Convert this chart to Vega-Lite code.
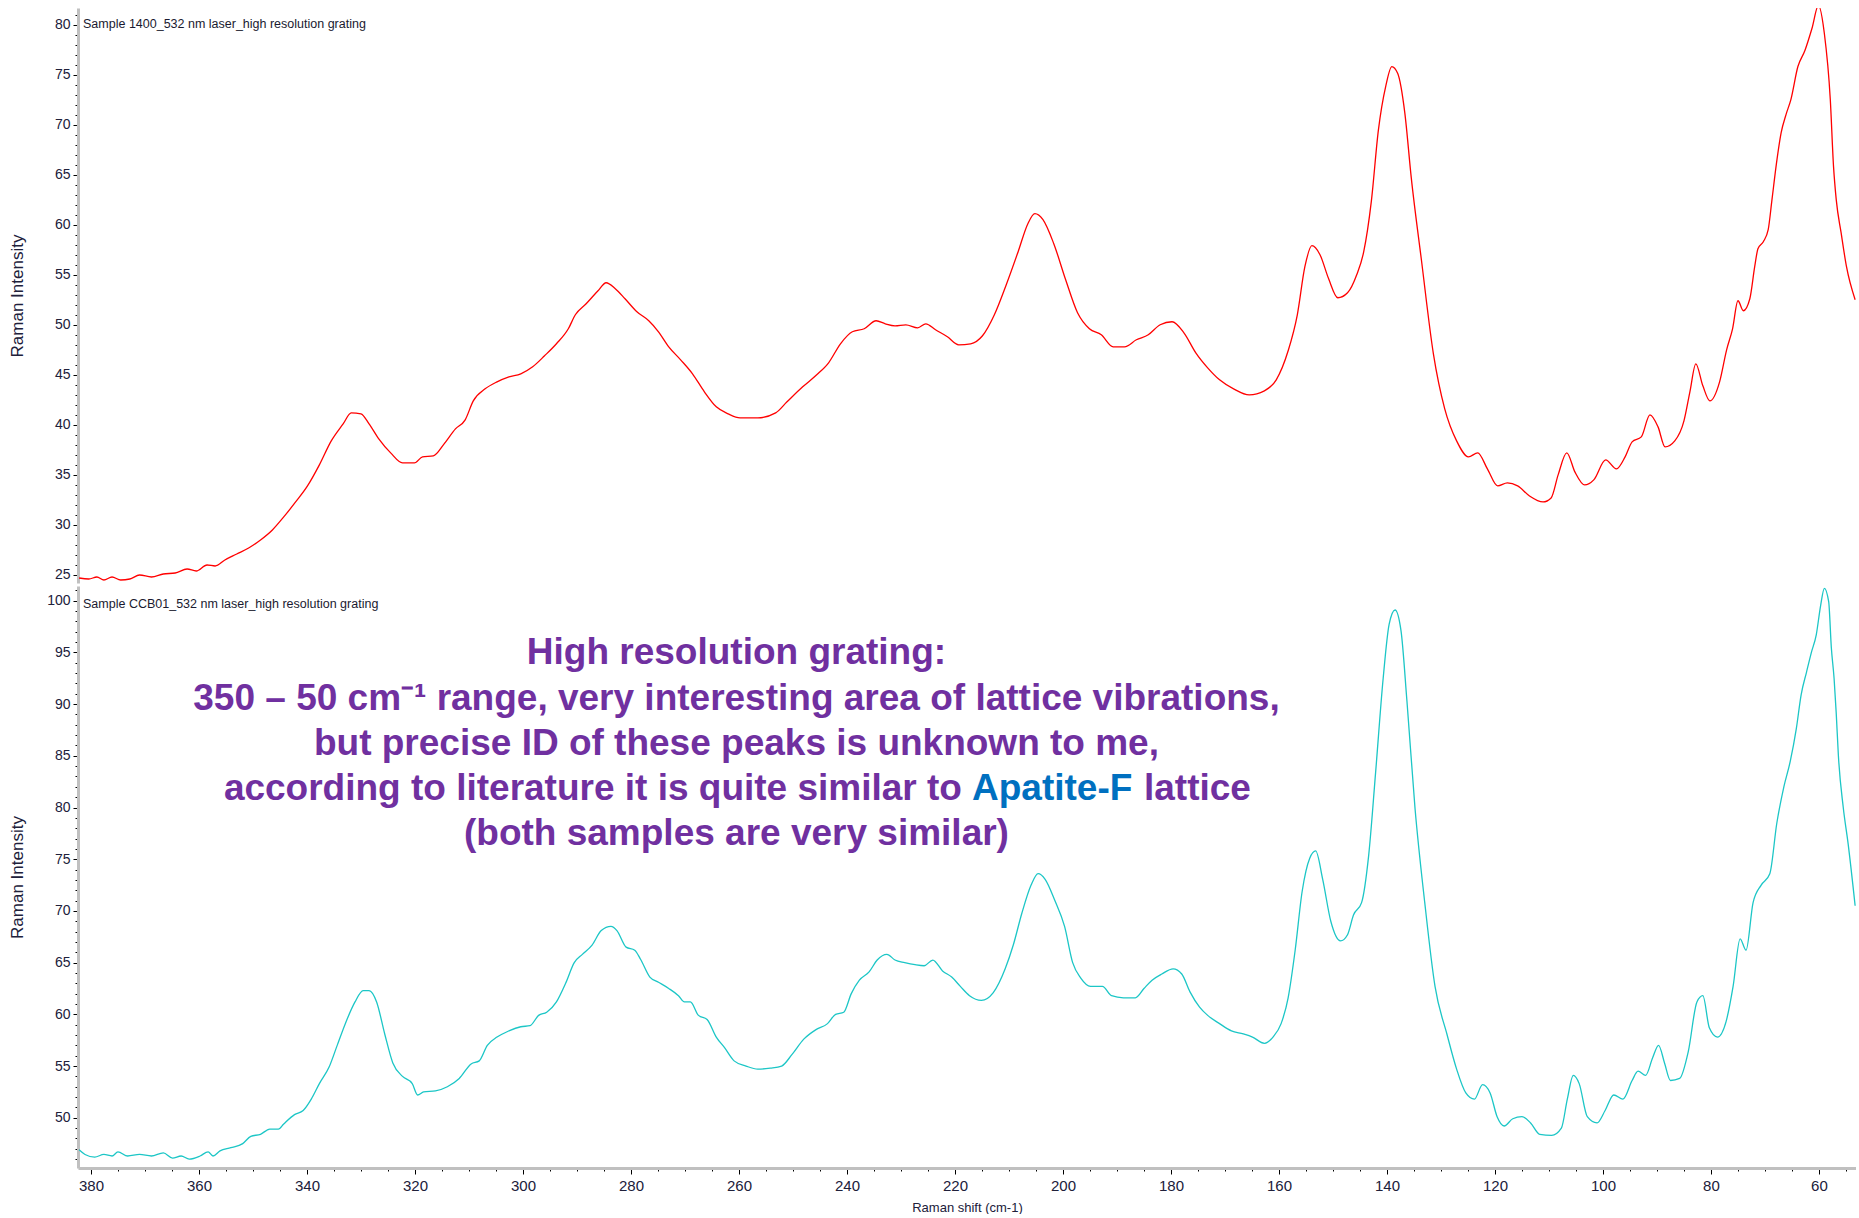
{
  "$schema": "https://vega.github.io/schema/vega-lite/v6.json",
  "background": "#ffffff",
  "padding": {"left": 8, "top": 7, "right": 0, "bottom": 0},
  "spacing": 0,
  "config": {
    "view": {"stroke": null, "fill": "#ffffff"},
    "axis": {"grid": false, "domainColor": "#c0c0c0", "domainWidth": 3, "tickColor": "#000000", "tickWidth": 1, "labelFont": "Liberation Sans", "labelFontSize": 14, "labelColor": "#20203a", "titleFont": "Liberation Sans", "titleFontWeight": "normal", "titleColor": "#20203a", "labelOverlap": false, "labelFlush": false}
  },
  "datasets": {
    "sample1400": [
      {"shift":382.2,"intensity":24.7},{"shift":380.4,"intensity":24.6},{"shift":378.9,"intensity":24.8},{"shift":377.6,"intensity":24.5},{"shift":376.1,"intensity":24.8},{"shift":374.5,"intensity":24.5},{"shift":372.8,"intensity":24.6},{"shift":371.0,"intensity":25.0},{"shift":368.8,"intensity":24.8},{"shift":366.6,"intensity":25.1},{"shift":364.4,"intensity":25.2},{"shift":362.2,"intensity":25.6},{"shift":360.5,"intensity":25.4},{"shift":358.5,"intensity":26.0},{"shift":357.0,"intensity":25.9},{"shift":355.2,"intensity":26.5},{"shift":353.0,"intensity":27.1},{"shift":350.8,"intensity":27.7},{"shift":348.6,"intensity":28.5},{"shift":346.4,"intensity":29.5},{"shift":344.3,"intensity":30.8},{"shift":342.1,"intensity":32.3},{"shift":339.9,"intensity":33.9},{"shift":337.7,"intensity":36.0},{"shift":335.5,"intensity":38.4},{"shift":333.3,"intensity":40.1},{"shift":331.8,"intensity":41.2},{"shift":330.0,"intensity":41.1},{"shift":328.5,"intensity":40.1},{"shift":326.7,"intensity":38.6},{"shift":324.5,"intensity":37.2},{"shift":322.3,"intensity":36.2},{"shift":320.1,"intensity":36.2},{"shift":318.6,"intensity":36.8},{"shift":316.6,"intensity":36.9},{"shift":314.6,"intensity":38.1},{"shift":312.5,"intensity":39.6},{"shift":310.7,"intensity":40.5},{"shift":309.2,"intensity":42.4},{"shift":307.0,"intensity":43.6},{"shift":304.8,"intensity":44.3},{"shift":302.6,"intensity":44.8},{"shift":300.4,"intensity":45.1},{"shift":298.2,"intensity":45.8},{"shift":296.0,"intensity":46.9},{"shift":293.8,"intensity":48.1},{"shift":291.6,"intensity":49.6},{"shift":290.3,"intensity":51.0},{"shift":288.3,"intensity":52.1},{"shift":286.1,"intensity":53.4},{"shift":284.6,"intensity":54.2},{"shift":282.9,"intensity":53.6},{"shift":281.1,"intensity":52.6},{"shift":278.9,"intensity":51.3},{"shift":276.7,"intensity":50.4},{"shift":274.9,"intensity":49.3},{"shift":273.0,"intensity":47.8},{"shift":270.8,"intensity":46.5},{"shift":268.6,"intensity":45.1},{"shift":266.4,"intensity":43.3},{"shift":264.2,"intensity":41.8},{"shift":262.0,"intensity":41.1},{"shift":259.8,"intensity":40.7},{"shift":256.5,"intensity":40.7},{"shift":253.2,"intensity":41.2},{"shift":251.1,"intensity":42.3},{"shift":248.2,"intensity":43.8},{"shift":245.6,"intensity":45.0},{"shift":243.4,"intensity":46.2},{"shift":241.2,"intensity":48.1},{"shift":239.0,"intensity":49.3},{"shift":236.8,"intensity":49.6},{"shift":234.6,"intensity":50.4},{"shift":232.9,"intensity":50.1},{"shift":231.1,"intensity":49.9},{"shift":229.1,"intensity":50.0},{"shift":226.9,"intensity":49.7},{"shift":225.4,"intensity":50.1},{"shift":223.6,"intensity":49.5},{"shift":221.4,"intensity":48.8},{"shift":219.3,"intensity":48.0},{"shift":217.1,"intensity":48.1},{"shift":214.9,"intensity":48.9},{"shift":212.7,"intensity":51.0},{"shift":210.5,"intensity":54.0},{"shift":208.3,"intensity":57.3},{"shift":206.5,"intensity":60.1},{"shift":205.2,"intensity":61.1},{"shift":203.7,"intensity":60.5},{"shift":201.7,"intensity":58.1},{"shift":199.5,"intensity":54.5},{"shift":197.3,"intensity":51.2},{"shift":195.1,"intensity":49.6},{"shift":192.9,"intensity":49.0},{"shift":190.7,"intensity":47.8},{"shift":188.6,"intensity":47.8},{"shift":186.4,"intensity":48.5},{"shift":184.2,"intensity":49.0},{"shift":182.0,"intensity":50.0},{"shift":179.8,"intensity":50.3},{"shift":177.6,"intensity":49.2},{"shift":175.4,"intensity":47.2},{"shift":173.2,"intensity":45.7},{"shift":171.0,"intensity":44.5},{"shift":168.4,"intensity":43.6},{"shift":165.5,"intensity":43.0},{"shift":162.7,"intensity":43.4},{"shift":160.5,"intensity":44.5},{"shift":158.3,"intensity":47.4},{"shift":156.6,"intensity":51.0},{"shift":155.2,"intensity":55.8},{"shift":153.9,"intensity":57.9},{"shift":152.4,"intensity":57.0},{"shift":150.8,"intensity":54.6},{"shift":149.1,"intensity":52.7},{"shift":147.3,"intensity":53.2},{"shift":145.6,"intensity":55.0},{"shift":144.3,"intensity":57.3},{"shift":142.9,"intensity":62.3},{"shift":141.6,"intensity":69.4},{"shift":140.2,"intensity":73.9},{"shift":139.1,"intensity":75.8},{"shift":138.0,"intensity":75.1},{"shift":136.7,"intensity":71.2},{"shift":135.5,"intensity":64.7},{"shift":133.6,"intensity":56.4},{"shift":131.4,"intensity":47.1},{"shift":129.3,"intensity":41.6},{"shift":127.1,"intensity":38.4},{"shift":124.9,"intensity":36.8},{"shift":123.2,"intensity":37.2},{"shift":121.4,"intensity":35.6},{"shift":119.5,"intensity":33.9},{"shift":117.7,"intensity":34.2},{"shift":115.8,"intensity":33.9},{"shift":113.6,"intensity":32.9},{"shift":111.1,"intensity":32.3},{"shift":109.6,"intensity":32.7},{"shift":108.3,"intensity":35.0},{"shift":106.7,"intensity":37.2},{"shift":105.2,"intensity":35.3},{"shift":103.4,"intensity":34.0},{"shift":101.7,"intensity":34.5},{"shift":99.5,"intensity":36.5},{"shift":97.5,"intensity":35.6},{"shift":95.9,"intensity":36.8},{"shift":94.6,"intensity":38.3},{"shift":92.9,"intensity":38.8},{"shift":91.3,"intensity":41.0},{"shift":89.8,"intensity":39.8},{"shift":88.5,"intensity":37.8},{"shift":86.7,"intensity":38.4},{"shift":85.0,"intensity":40.4},{"shift":83.9,"intensity":43.3},{"shift":82.8,"intensity":46.1},{"shift":81.5,"intensity":43.9},{"shift":80.2,"intensity":42.4},{"shift":78.4,"intensity":44.3},{"shift":77.1,"intensity":47.5},{"shift":76.0,"intensity":49.6},{"shift":75.0,"intensity":52.4},{"shift":74.0,"intensity":51.4},{"shift":72.8,"intensity":52.6},{"shift":71.9,"intensity":55.8},{"shift":71.3,"intensity":57.6},{"shift":70.3,"intensity":58.3},{"shift":69.4,"intensity":59.5},{"shift":68.7,"intensity":62.5},{"shift":67.9,"intensity":66.0},{"shift":67.0,"intensity":69.2},{"shift":66.1,"intensity":71.0},{"shift":65.2,"intensity":72.5},{"shift":63.9,"intensity":75.8},{"shift":62.6,"intensity":77.4},{"shift":61.3,"intensity":79.6},{"shift":60.1,"intensity":81.9},{"shift":59.0,"intensity":79.1},{"shift":57.9,"intensity":72.5},{"shift":57.3,"intensity":65.8},{"shift":56.8,"intensity":62.5},{"shift":55.9,"intensity":59.2},{"shift":54.9,"intensity":55.8},{"shift":53.3,"intensity":52.5}
    ],
    "ccb01": [
      {"shift":382.2,"intensity":46.9},{"shift":381.1,"intensity":46.45},{"shift":379.3,"intensity":46.2},{"shift":377.6,"intensity":46.45},{"shift":376.1,"intensity":46.3},{"shift":375.0,"intensity":46.7},{"shift":373.2,"intensity":46.3},{"shift":371.0,"intensity":46.45},{"shift":368.8,"intensity":46.3},{"shift":366.6,"intensity":46.6},{"shift":364.9,"intensity":46.1},{"shift":363.3,"intensity":46.3},{"shift":361.8,"intensity":46.0},{"shift":359.8,"intensity":46.3},{"shift":358.3,"intensity":46.7},{"shift":357.4,"intensity":46.3},{"shift":356.1,"intensity":46.8},{"shift":354.1,"intensity":47.1},{"shift":351.9,"intensity":47.5},{"shift":350.4,"intensity":48.2},{"shift":348.6,"intensity":48.4},{"shift":346.9,"intensity":48.9},{"shift":345.3,"intensity":48.9},{"shift":344.3,"intensity":49.4},{"shift":342.3,"intensity":50.3},{"shift":340.7,"intensity":50.7},{"shift":339.2,"intensity":51.8},{"shift":337.7,"intensity":53.3},{"shift":335.9,"intensity":54.9},{"shift":334.4,"intensity":57.0},{"shift":332.9,"intensity":59.1},{"shift":331.1,"intensity":61.2},{"shift":329.6,"intensity":62.3},{"shift":328.5,"intensity":62.3},{"shift":327.1,"intensity":61.2},{"shift":325.6,"intensity":58.1},{"shift":324.1,"intensity":55.3},{"shift":322.3,"intensity":54.0},{"shift":320.5,"intensity":53.3},{"shift":319.5,"intensity":52.2},{"shift":318.4,"intensity":52.5},{"shift":316.2,"intensity":52.6},{"shift":314.0,"intensity":53.0},{"shift":311.8,"intensity":53.8},{"shift":309.6,"intensity":55.2},{"shift":308.1,"intensity":55.5},{"shift":306.6,"intensity":57.0},{"shift":304.8,"intensity":57.8},{"shift":302.6,"intensity":58.4},{"shift":300.4,"intensity":58.8},{"shift":298.7,"intensity":58.9},{"shift":297.1,"intensity":59.9},{"shift":295.6,"intensity":60.2},{"shift":293.8,"intensity":61.2},{"shift":292.1,"intensity":63.0},{"shift":290.5,"intensity":65.0},{"shift":289.0,"intensity":65.8},{"shift":287.2,"intensity":66.7},{"shift":285.5,"intensity":68.1},{"shift":283.7,"intensity":68.5},{"shift":282.6,"intensity":68.1},{"shift":280.9,"intensity":66.5},{"shift":279.3,"intensity":66.2},{"shift":278.2,"intensity":65.3},{"shift":276.5,"intensity":63.6},{"shift":274.9,"intensity":63.1},{"shift":273.0,"intensity":62.5},{"shift":271.2,"intensity":61.8},{"shift":270.1,"intensity":61.2},{"shift":269.0,"intensity":61.2},{"shift":267.5,"intensity":59.9},{"shift":265.9,"intensity":59.5},{"shift":264.2,"intensity":57.8},{"shift":262.7,"intensity":56.8},{"shift":260.9,"intensity":55.5},{"shift":258.7,"intensity":55.0},{"shift":256.5,"intensity":54.7},{"shift":254.2,"intensity":54.8},{"shift":252.1,"intensity":55.0},{"shift":250.2,"intensity":56.1},{"shift":248.0,"intensity":57.6},{"shift":245.8,"intensity":58.5},{"shift":243.6,"intensity":59.1},{"shift":242.1,"intensity":60.0},{"shift":240.6,"intensity":60.2},{"shift":239.2,"intensity":62.0},{"shift":237.7,"intensity":63.3},{"shift":235.9,"intensity":64.1},{"shift":234.4,"intensity":65.25},{"shift":232.6,"intensity":65.8},{"shift":231.1,"intensity":65.25},{"shift":229.3,"intensity":65.0},{"shift":227.4,"intensity":64.8},{"shift":225.7,"intensity":64.7},{"shift":224.1,"intensity":65.25},{"shift":222.3,"intensity":64.2},{"shift":220.6,"intensity":63.6},{"shift":219.0,"intensity":62.7},{"shift":217.3,"intensity":61.8},{"shift":215.1,"intensity":61.35},{"shift":212.9,"intensity":62.1},{"shift":210.7,"intensity":64.4},{"shift":209.2,"intensity":66.7},{"shift":207.6,"intensity":69.8},{"shift":205.9,"intensity":72.5},{"shift":204.6,"intensity":73.6},{"shift":203.3,"intensity":73.05},{"shift":201.5,"intensity":71.0},{"shift":199.7,"intensity":68.5},{"shift":198.2,"intensity":65.0},{"shift":196.7,"intensity":63.5},{"shift":194.9,"intensity":62.7},{"shift":192.7,"intensity":62.7},{"shift":191.0,"intensity":61.8},{"shift":188.8,"intensity":61.6},{"shift":186.6,"intensity":61.6},{"shift":185.0,"intensity":62.5},{"shift":183.5,"intensity":63.3},{"shift":181.7,"intensity":63.9},{"shift":179.6,"intensity":64.4},{"shift":178.0,"intensity":63.9},{"shift":176.5,"intensity":62.2},{"shift":174.7,"intensity":60.7},{"shift":173.2,"intensity":59.9},{"shift":171.0,"intensity":59.1},{"shift":168.8,"intensity":58.4},{"shift":166.6,"intensity":58.1},{"shift":164.9,"intensity":57.8},{"shift":162.7,"intensity":57.2},{"shift":161.1,"intensity":57.8},{"shift":159.6,"intensity":59.1},{"shift":158.3,"intensity":61.6},{"shift":157.0,"intensity":66.2},{"shift":155.7,"intensity":71.9},{"shift":154.3,"intensity":75.1},{"shift":153.2,"intensity":75.8},{"shift":151.9,"intensity":73.05},{"shift":150.4,"intensity":69.0},{"shift":148.6,"intensity":67.1},{"shift":147.3,"intensity":67.7},{"shift":146.2,"intensity":69.6},{"shift":144.7,"intensity":70.8},{"shift":143.4,"intensity":75.3},{"shift":142.1,"intensity":83.4},{"shift":140.7,"intensity":92.5},{"shift":139.6,"intensity":97.7},{"shift":138.5,"intensity":99.1},{"shift":137.4,"intensity":97.1},{"shift":136.3,"intensity":90.3},{"shift":134.8,"intensity":79.9},{"shift":133.0,"intensity":70.8},{"shift":131.1,"intensity":62.7},{"shift":128.9,"intensity":58.1},{"shift":127.1,"intensity":54.7},{"shift":125.4,"intensity":52.4},{"shift":123.8,"intensity":51.8},{"shift":122.3,"intensity":53.2},{"shift":120.9,"intensity":52.4},{"shift":119.6,"intensity":50.1},{"shift":118.3,"intensity":49.2},{"shift":116.7,"intensity":49.9},{"shift":115.0,"intensity":50.1},{"shift":113.4,"intensity":49.5},{"shift":111.7,"intensity":48.4},{"shift":109.5,"intensity":48.3},{"shift":107.7,"intensity":49.0},{"shift":106.6,"intensity":51.8},{"shift":105.5,"intensity":54.1},{"shift":104.4,"intensity":53.3},{"shift":102.9,"intensity":50.1},{"shift":101.1,"intensity":49.5},{"shift":99.6,"intensity":50.7},{"shift":98.0,"intensity":52.2},{"shift":96.3,"intensity":51.8},{"shift":94.6,"intensity":53.6},{"shift":93.5,"intensity":54.5},{"shift":92.1,"intensity":54.1},{"shift":90.8,"intensity":55.8},{"shift":89.7,"intensity":57.0},{"shift":88.6,"intensity":55.3},{"shift":87.5,"intensity":53.6},{"shift":85.8,"intensity":53.8},{"shift":84.2,"intensity":56.4},{"shift":82.6,"intensity":61.2},{"shift":81.5,"intensity":61.8},{"shift":80.3,"intensity":58.7},{"shift":78.8,"intensity":57.8},{"shift":77.2,"intensity":59.3},{"shift":75.9,"intensity":62.7},{"shift":74.6,"intensity":67.3},{"shift":73.5,"intensity":66.2},{"shift":72.2,"intensity":70.8},{"shift":70.7,"intensity":72.5},{"shift":69.1,"intensity":73.6},{"shift":67.8,"intensity":78.5},{"shift":66.5,"intensity":82.0},{"shift":65.3,"intensity":84.5},{"shift":64.2,"intensity":87.6},{"shift":63.3,"intensity":90.9},{"shift":62.3,"intensity":93.1},{"shift":61.4,"intensity":95.0},{"shift":60.5,"intensity":96.7},{"shift":59.7,"intensity":99.5},{"shift":59.0,"intensity":101.2},{"shift":58.2,"intensity":99.9},{"shift":57.7,"intensity":95.4},{"shift":57.2,"intensity":92.5},{"shift":56.8,"intensity":89.1},{"shift":56.4,"intensity":85.0},{"shift":55.5,"intensity":80.0},{"shift":54.6,"intensity":76.5},{"shift":53.3,"intensity":70.5}
    ]
  },
  "vconcat": [
    {
      "width": 1778,
      "height": 575,
      "encoding": {
        "x": {"field": "shift", "type": "quantitative", "scale": {"domain": [53.14, 382.4], "reverse": true, "nice": false, "zero": false}, "axis": null},
        "y": {"field": "intensity", "type": "quantitative", "scale": {"domain": [24.2, 81.65], "nice": false, "zero": false},
          "axis": {"title": "Raman Intensity", "titleFontSize": 17, "titlePadding": 8, "minExtent": 44, "maxExtent": 44, "labelPadding": 3,
            "values": [25,26,27,28,29,30,31,32,33,34,35,36,37,38,39,40,41,42,43,44,45,46,47,48,49,50,51,52,53,54,55,56,57,58,59,60,61,62,63,64,65,66,67,68,69,70,71,72,73,74,75,76,77,78,79,80,81],
            "labelExpr": "datum.value % 5 === 0 ? datum.label : ''",
            "tickSize": {"condition": {"test": "datum.value % 5 === 0", "value": 5}, "value": 3}}}
      },
      "layer": [
        {"data": {"name": "sample1400"}, "mark": {"type": "line", "color": "#ff0000", "strokeWidth": 1.3, "interpolate": "monotone", "clip": true}},
        {"data": {"values": [{"shift": 381.47, "intensity": 79.65, "label": "Sample 1400_532 nm laser_high resolution grating"}]},
         "mark": {"type": "text", "align": "left", "baseline": "alphabetic", "font": "Liberation Sans", "fontSize": 12.5, "color": "#1a1a30"},
         "encoding": {"text": {"field": "label"}}}
      ]
    },
    {
      "width": 1778,
      "height": 582,
      "encoding": {
        "x": {"field": "shift", "type": "quantitative", "scale": {"domain": [53.14, 382.4], "reverse": true, "nice": false, "zero": false},
          "axis": {"title": "Raman shift (cm-1)", "titleFontSize": 13, "titlePadding": 8, "labelPadding": 4, "labelFontSize": 15,
            "values": [55,60,65,70,75,80,85,90,95,100,105,110,115,120,125,130,135,140,145,150,155,160,165,170,175,180,185,190,195,200,205,210,215,220,225,230,235,240,245,250,255,260,265,270,275,280,285,290,295,300,305,310,315,320,325,330,335,340,345,350,355,360,365,370,375,380],
            "labelExpr": "datum.value % 20 === 0 ? datum.label : ''",
            "tickSize": {"condition": {"test": "datum.value % 20 === 0", "value": 6}, "value": 3}}},
        "y": {"field": "intensity", "type": "quantitative", "scale": {"domain": [45.14, 101.42], "nice": false, "zero": false},
          "axis": {"title": "Raman Intensity", "titleFontSize": 17, "titlePadding": 8, "minExtent": 44, "maxExtent": 44, "labelPadding": 3,
            "values": [46,47,48,49,50,51,52,53,54,55,56,57,58,59,60,61,62,63,64,65,66,67,68,69,70,71,72,73,74,75,76,77,78,79,80,81,82,83,84,85,86,87,88,89,90,91,92,93,94,95,96,97,98,99,100,101],
            "labelExpr": "datum.value % 5 === 0 ? datum.label : ''",
            "tickSize": {"condition": {"test": "datum.value % 5 === 0", "value": 5}, "value": 3}}}
      },
      "layer": [
        {"data": {"name": "ccb01"}, "mark": {"type": "line", "color": "#1cc6c6", "strokeWidth": 1.3, "interpolate": "monotone", "clip": true}},
        {"data": {"values": [{"shift": 381.47, "intensity": 99.25, "label": "Sample CCB01_532 nm laser_high resolution grating"}]},
         "mark": {"type": "text", "align": "left", "baseline": "alphabetic", "font": "Liberation Sans", "fontSize": 12.5, "color": "#1a1a30"},
         "encoding": {"text": {"field": "label"}}},
        {"data": {"values": [
            {"shift": 260.46, "intensity": 93.92, "label": "High resolution grating:"},
            {"shift": 260.46, "intensity": 89.45, "label": "350 – 50 cm⁻¹ range, very interesting area of lattice vibrations,"},
            {"shift": 260.46, "intensity": 85.09, "label": "but precise ID of these peaks is unknown to me,"},
            {"shift": 260.46, "intensity": 76.37, "label": "(both samples are very similar)"}]},
         "mark": {"type": "text", "align": "center", "baseline": "alphabetic", "font": "Liberation Sans", "fontWeight": "bold", "fontSize": 37, "color": "#7030a0"},
         "encoding": {"text": {"field": "label"}}},
        {"data": {"values": [{"shift": 218.7, "intensity": 80.74, "label": "according to literature it is quite similar to"}]},
         "mark": {"type": "text", "align": "right", "baseline": "alphabetic", "font": "Liberation Sans", "fontWeight": "bold", "fontSize": 37, "color": "#7030a0"},
         "encoding": {"text": {"field": "label"}}},
        {"data": {"values": [{"shift": 216.84, "intensity": 80.74, "label": "Apatite-F"}]},
         "mark": {"type": "text", "align": "left", "baseline": "alphabetic", "font": "Liberation Sans", "fontWeight": "bold", "fontSize": 37, "color": "#0070c0"},
         "encoding": {"text": {"field": "label"}}},
        {"data": {"values": [{"shift": 185.0, "intensity": 80.74, "label": "lattice"}]},
         "mark": {"type": "text", "align": "left", "baseline": "alphabetic", "font": "Liberation Sans", "fontWeight": "bold", "fontSize": 37, "color": "#7030a0"},
         "encoding": {"text": {"field": "label"}}}
      ]
    }
  ]
}
